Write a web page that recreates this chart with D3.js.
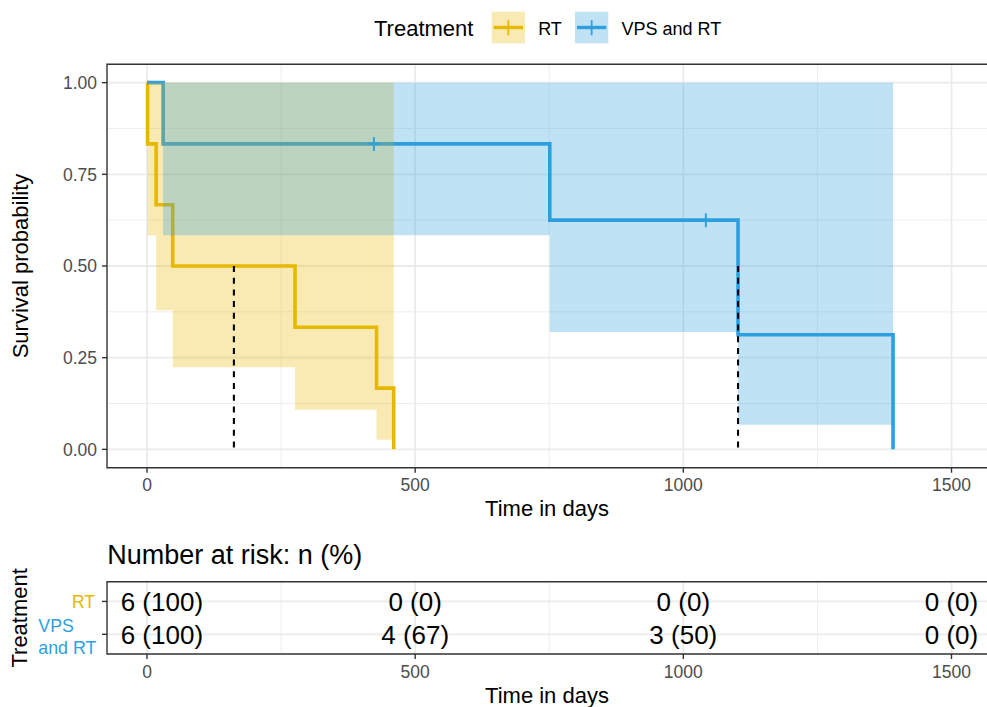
<!DOCTYPE html>
<html>
<head>
<meta charset="utf-8">
<script src="https://cdn.jsdelivr.net/npm/d3@7"></script>
<style>
  body { margin: 0; background: #fff; }
  svg { display: block; font-family: "Liberation Sans", Arial, sans-serif; }
</style>
</head>
<body>
<div id="chart"></div>
<script>
// data ----------------------------------------------------------------------------------------
const groups = ['RT', 'VPS and RT'];
const rtTime = [0, 1, 17, 48, 276, 428, 460];
const rtSurv = [1, 0.833, 0.667, 0.5, 0.333, 0.167, 0];
const rtLower = [1, 0.584, 0.379, 0.224, 0.108, 0.026];
const rtUpper = [1, 1, 1, 1, 1, 1];
const rtCensor = [];
const vpsTime = [0, 30, 751, 1102, 1391];
const vpsSurv = [1, 0.833, 0.625, 0.3125, 0];
const vpsLower = [1, 0.584, 0.32, 0.067];
const vpsUpper = [1, 1, 1, 1];
const vpsCensor = [423, 1042];
const medianTime = [162, 1102];
const riskTimes = [0, 500, 1000, 1500];
const riskRT = ['6 (100)', '0 (0)', '0 (0)', '0 (0)'];
const riskVPS = ['6 (100)', '4 (67)', '3 (50)', '0 (0)'];
const xTicks = [0, 500, 1000, 1500];
const xMinor = [250, 750, 1250];
const yTicks = [0, 0.25, 0.5, 0.75, 1];
const yMinor = [0.125, 0.375, 0.625, 0.875];

const colors = {'RT': '#E7B800', 'VPS and RT': '#2E9FDF'};
const series = [
  {name: groups[0], time: rtTime, surv: rtSurv, lower: rtLower, upper: rtUpper, censor: rtCensor, median: medianTime[0], risk: riskRT},
  {name: groups[1], time: vpsTime, surv: vpsSurv, lower: vpsLower, upper: vpsUpper, censor: vpsCensor, median: medianTime[1], risk: riskVPS}
];

// layout --------------------------------------------------------------------------------------
const width = 987;
const height = 707;
const panel = {left: 107, right: 987, top: 64.3, bottom: 467.7};
const risk = {top: 581.7, bottom: 654};
const gridCol = '#EBEBEB';
const tickCol = '#333333';
const labCol = '#4D4D4D';

const svg = d3.select('#chart').append('svg')
  .attr('width', width)
  .attr('height', height)
  .attr('viewBox', '0 0 ' + width + ' ' + height);

const x = d3.scaleLinear()
  .domain([-74.6, 1566.2])
  .range([panel.left, panel.right]);
const y = d3.scaleLinear()
  .domain([-0.05, 1.05])
  .range([panel.bottom, panel.top]);

// legend --------------------------------------------------------------------------------------
const legend = svg.append('g');
legend.append('text')
  .attr('x', 374)
  .attr('y', 35.5)
  .attr('font-size', '22px')
  .attr('fill', '#000')
  .text('Treatment');
const legendPos = [491.7, 575];
series.forEach((s, i) => {
  const lg = legend.append('g').attr('transform', 'translate(' + legendPos[i] + ',11.7)');
  lg.append('rect')
    .attr('width', 33.3)
    .attr('height', 31.6)
    .attr('fill', colors[s.name])
    .attr('fill-opacity', 0.3);
  lg.append('line')
    .attr('x1', 2).attr('x2', 31.3)
    .attr('y1', 15.8).attr('y2', 15.8)
    .attr('stroke', colors[s.name])
    .attr('stroke-width', 3.4);
  lg.append('line')
    .attr('x1', 16.65).attr('x2', 16.65)
    .attr('y1', 8.5).attr('y2', 23.5)
    .attr('stroke', colors[s.name])
    .attr('stroke-width', 1.8);
  lg.append('text')
    .attr('x', 46.5)
    .attr('y', 23)
    .attr('font-size', '18px')
    .attr('fill', '#000')
    .text(s.name);
});

// grid ----------------------------------------------------------------------------------------
svg.append('clipPath').attr('id', 'clip-main')
  .append('rect')
  .attr('x', panel.left).attr('y', panel.top)
  .attr('width', panel.right - panel.left).attr('height', panel.bottom - panel.top);

const gridG = svg.append('g');
gridG.selectAll('.ymin').data(yMinor).enter().append('line')
  .attr('x1', panel.left).attr('x2', panel.right)
  .attr('y1', d => y(d)).attr('y2', d => y(d))
  .attr('stroke', gridCol).attr('stroke-width', 0.9);
gridG.selectAll('.xmin').data(xMinor).enter().append('line')
  .attr('y1', panel.top).attr('y2', panel.bottom)
  .attr('x1', d => x(d)).attr('x2', d => x(d))
  .attr('stroke', gridCol).attr('stroke-width', 0.9);
gridG.selectAll('.ymaj').data(yTicks).enter().append('line')
  .attr('x1', panel.left).attr('x2', panel.right)
  .attr('y1', d => y(d)).attr('y2', d => y(d))
  .attr('stroke', gridCol).attr('stroke-width', 1.8);
gridG.selectAll('.xmaj').data(xTicks).enter().append('line')
  .attr('y1', panel.top).attr('y2', panel.bottom)
  .attr('x1', d => x(d)).attr('x2', d => x(d))
  .attr('stroke', gridCol).attr('stroke-width', 1.8);

// curves --------------------------------------------------------------------------------------
const plotG = svg.append('g').attr('clip-path', 'url(#clip-main)');
const line = d3.line()
  .x(d => x(d[0]))
  .y(d => y(d[1]))
  .curve(d3.curveStepAfter);
const area = d3.area()
  .x(d => x(d[0]))
  .y0(d => y(d[1]))
  .y1(d => y(d[2]))
  .curve(d3.curveStepAfter);

series.forEach(s => {
  plotG.append('path')
    .datum(s.time.map((t, i) => [t, s.surv[i]]))
    .attr('d', line)
    .attr('fill', 'none')
    .attr('stroke', colors[s.name])
    .attr('stroke-width', 3.6);
});
series.forEach(s => {
  const pts = s.lower.map((l, i) => [s.time[i], l, s.upper[i]]);
  const last = s.lower.length - 1;
  pts.push([s.time[s.time.length - 1], s.lower[last], s.upper[last]]);
  plotG.append('path')
    .datum(pts)
    .attr('d', area)
    .attr('fill', colors[s.name])
    .attr('fill-opacity', 0.3);
});
// censor marks
const survAt = (s, t) => {
  let v = s.surv[0];
  s.time.forEach((tt, i) => { if (tt <= t) v = s.surv[i]; });
  return v;
};
series.forEach(s => {
  const cg = plotG.selectAll(null).data(s.censor).enter().append('g')
    .attr('transform', d => 'translate(' + x(d) + ',' + y(survAt(s, d)) + ')');
  cg.append('line')
    .attr('x1', 0).attr('x2', 0).attr('y1', -7).attr('y2', 7)
    .attr('stroke', colors[s.name]).attr('stroke-width', 1.9);
  cg.append('line')
    .attr('x1', -7).attr('x2', 7).attr('y1', 0).attr('y2', 0)
    .attr('stroke', colors[s.name]).attr('stroke-width', 1.9);
});
// median lines
plotG.selectAll('.median').data(series).enter().append('line')
  .attr('x1', d => x(d.median)).attr('x2', d => x(d.median))
  .attr('y1', y(0.5)).attr('y2', y(0))
  .attr('stroke', '#000')
  .attr('stroke-width', 2.1)
  .attr('stroke-dasharray', '6,5.7');

// border + axes -------------------------------------------------------------------------------
svg.append('path')
  .attr('d', 'M' + (panel.right + 5) + ',' + panel.top + 'H' + panel.left + 'V' + panel.bottom + 'H' + (panel.right + 5))
  .attr('fill', 'none')
  .attr('stroke', tickCol)
  .attr('stroke-width', 1.4);

const yAxis = svg.append('g');
yAxis.selectAll('line').data(yTicks).enter().append('line')
  .attr('x1', panel.left - 5).attr('x2', panel.left)
  .attr('y1', d => y(d)).attr('y2', d => y(d))
  .attr('stroke', tickCol).attr('stroke-width', 1.4);
yAxis.selectAll('text').data(yTicks).enter().append('text')
  .attr('x', panel.left - 10)
  .attr('y', d => y(d))
  .attr('dy', '0.36em')
  .attr('text-anchor', 'end')
  .attr('font-size', '17.5px')
  .attr('fill', labCol)
  .text(d => d3.format('.2f')(d));

const xAxisAt = (top, labelY) => {
  const g = svg.append('g');
  g.selectAll('line').data(xTicks).enter().append('line')
    .attr('x1', d => x(d)).attr('x2', d => x(d))
    .attr('y1', top).attr('y2', top + 5)
    .attr('stroke', tickCol).attr('stroke-width', 1.4);
  g.selectAll('text').data(xTicks).enter().append('text')
    .attr('x', d => x(d))
    .attr('y', labelY)
    .attr('text-anchor', 'middle')
    .attr('font-size', '17.5px')
    .attr('fill', labCol)
    .text(d => d);
};
xAxisAt(panel.bottom, 491);

svg.append('text')
  .attr('x', (panel.left + 987) / 2)
  .attr('y', 515.5)
  .attr('text-anchor', 'middle')
  .attr('font-size', '22px')
  .attr('fill', '#000')
  .text('Time in days');
svg.append('text')
  .attr('transform', 'translate(28,' + ((panel.top + panel.bottom) / 2) + ') rotate(-90)')
  .attr('text-anchor', 'middle')
  .attr('font-size', '22px')
  .attr('fill', '#000')
  .text('Survival probability');

// risk table ----------------------------------------------------------------------------------
svg.append('text')
  .attr('x', 107.3)
  .attr('y', 563.8)
  .attr('font-size', '27px')
  .attr('fill', '#000')
  .text('Number at risk: n (%)');

const yr = d3.scalePoint()
  .domain(groups)
  .range([risk.top, risk.bottom])
  .padding(0.6);

const riskGrid = svg.append('g');
riskGrid.selectAll('.xmin').data(xMinor).enter().append('line')
  .attr('y1', risk.top).attr('y2', risk.bottom)
  .attr('x1', d => x(d)).attr('x2', d => x(d))
  .attr('stroke', gridCol).attr('stroke-width', 0.9);
riskGrid.selectAll('.xmaj').data(xTicks).enter().append('line')
  .attr('y1', risk.top).attr('y2', risk.bottom)
  .attr('x1', d => x(d)).attr('x2', d => x(d))
  .attr('stroke', gridCol).attr('stroke-width', 1.8);
riskGrid.selectAll('.ymaj').data(groups).enter().append('line')
  .attr('x1', panel.left).attr('x2', panel.right)
  .attr('y1', d => yr(d)).attr('y2', d => yr(d))
  .attr('stroke', gridCol).attr('stroke-width', 1.8);

// numbers at risk, kept inside the panel on the left
series.forEach(s => {
  svg.selectAll(null).data(riskTimes).enter().append('text')
    .attr('y', yr(s.name))
    .attr('dy', '0.36em')
    .attr('font-size', '26px')
    .attr('fill', '#000')
    .attr('text-anchor', 'middle')
    .text((d, i) => s.risk[i])
    .each(function (d) {
      const w = this.getComputedTextLength();
      d3.select(this).attr('x', Math.max(x(d), panel.left + 13.7 + w / 2));
    });
});

svg.append('path')
  .attr('d', 'M' + (panel.right + 5) + ',' + risk.top + 'H' + panel.left + 'V' + risk.bottom + 'H' + (panel.right + 5))
  .attr('fill', 'none')
  .attr('stroke', tickCol)
  .attr('stroke-width', 1.4);

const riskY = svg.append('g');
riskY.selectAll('line').data(groups).enter().append('line')
  .attr('x1', panel.left - 5).attr('x2', panel.left)
  .attr('y1', d => yr(d)).attr('y2', d => yr(d))
  .attr('stroke', tickCol).attr('stroke-width', 1.4);
riskY.append('text')
  .attr('x', 95)
  .attr('y', yr(groups[0]))
  .attr('dy', '0.36em')
  .attr('text-anchor', 'end')
  .attr('font-size', '17.5px')
  .attr('fill', colors[groups[0]])
  .text(groups[0]);
const vpsLab = riskY.append('text')
  .attr('x', 38.3)
  .attr('y', yr(groups[1]) - 8.5)
  .attr('dy', '0.36em')
  .attr('font-size', '17.8px')
  .attr('fill', colors[groups[1]]);
vpsLab.append('tspan').attr('x', 38.3).text('VPS');
vpsLab.append('tspan').attr('x', 38.3).attr('dy', '1.25em').text('and RT');

xAxisAt(risk.bottom, 678.3);

svg.append('text')
  .attr('x', (panel.left + 987) / 2)
  .attr('y', 702.6)
  .attr('text-anchor', 'middle')
  .attr('font-size', '22px')
  .attr('fill', '#000')
  .text('Time in days');
svg.append('text')
  .attr('transform', 'translate(27,' + ((risk.top + risk.bottom) / 2) + ') rotate(-90)')
  .attr('text-anchor', 'middle')
  .attr('font-size', '22px')
  .attr('fill', '#000')
  .text('Treatment');
</script>
</body>
</html>
